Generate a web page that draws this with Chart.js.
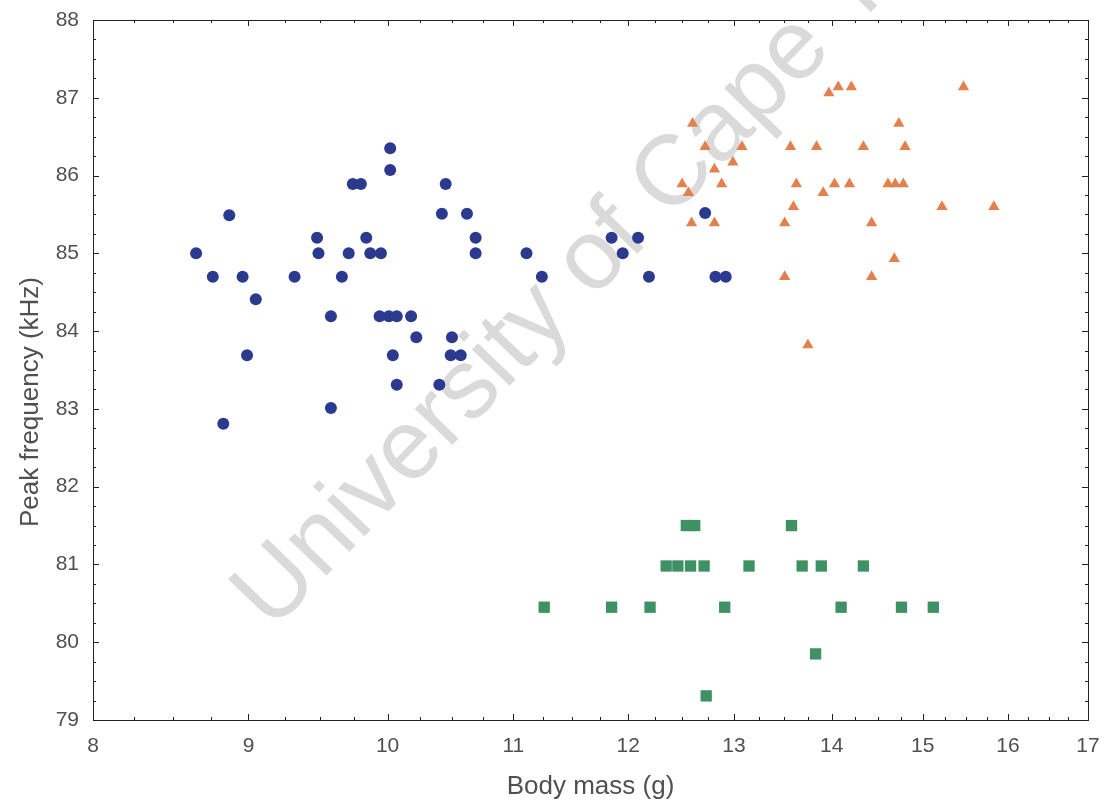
<!DOCTYPE html>
<html>
<head>
<meta charset="utf-8">
<script src="https://cdn.jsdelivr.net/npm/chart.js@4.4.1/dist/chart.umd.min.js"></script>
<style>
  html, body { margin: 0; padding: 0; background: #fff; }
  canvas { display: block; }
</style>
</head>
<body>
<canvas id="grafico" width="1105" height="809"></canvas>
<script>
// valores
const xTicks = [8, 9, 10, 11, 12, 13, 14, 15, 16, 17];
const yTicks = [79, 80, 81, 82, 83, 84, 85, 86, 87, 88];

const circulosX = [10.02, 10.02, 9.74, 9.80, 8.87, 9.48, 9.84, 8.65, 9.49, 9.71, 9.87, 9.95,
    8.76, 8.96, 9.32, 9.66, 9.05, 9.58, 9.94, 10.01, 10.07, 10.18, 10.22, 10.50, 10.04, 10.49,
    10.57, 10.07, 10.40, 9.58, 8.99, 8.83, 10.45, 10.42, 10.62, 10.69, 10.69, 11.11, 11.24,
    11.85, 12.09, 11.95, 12.19, 12.72, 12.82, 12.92];
const circulosY = [86.35, 86.07, 85.89, 85.89, 85.49, 85.20, 85.20, 85.00, 85.00, 85.00, 85.00, 85.00,
    84.70, 84.70, 84.70, 84.70, 84.41, 84.19, 84.19, 84.19, 84.19, 84.19, 83.92, 83.92, 83.69, 83.69,
    83.69, 83.31, 83.31, 83.01, 83.69, 82.81, 85.89, 85.51, 85.51, 85.20, 85.00, 85.00, 84.70,
    85.20, 85.20, 85.00, 84.70, 85.52, 84.70, 84.70];

const triangulosX = [13.97, 14.07, 14.21, 15.47, 12.60, 14.73, 12.72, 13.08, 13.57, 13.84, 14.34, 14.80,
    12.99, 12.81, 12.50, 12.56, 12.88, 13.63, 14.03, 14.19, 13.91, 14.61, 14.69, 14.78,
    13.60, 15.22, 15.83, 12.59, 12.81, 13.51, 14.43, 14.68, 13.51, 14.43, 13.75];
const triangulosY = [87.06, 87.14, 87.14, 87.14, 86.67, 86.67, 86.37, 86.37, 86.37, 86.37, 86.37, 86.37,
    86.17, 86.08, 85.89, 85.78, 85.89, 85.89, 85.89, 85.89, 85.78, 85.89, 85.89, 85.89,
    85.60, 85.60, 85.60, 85.39, 85.39, 85.39, 85.39, 84.93, 84.70, 84.70, 83.82];

const quadradosX = [12.54, 12.62, 13.58, 12.35, 12.46, 12.58, 12.71, 13.15, 13.69, 13.89, 14.34,
    11.26, 11.85, 12.20, 12.91, 14.10, 14.76, 15.12, 13.83, 12.73];
const quadradosY = [81.50, 81.50, 81.50, 80.98, 80.98, 80.98, 80.98, 80.98, 80.98, 80.98, 80.98,
    80.45, 80.45, 80.45, 80.45, 80.45, 80.45, 80.45, 79.85, 79.31];

function pontos(xs, ys){
    return xs.map((x, i) => ({x: x, y: ys[i]}));
}

const corTexto = '#505050';
const fonteTicks = { family: '"Liberation Sans", Arial, sans-serif', size: 21 };

// marca d'agua atras dos pontos
const marcaDagua = {
    id: 'marcaDagua',
    beforeDatasetsDraw(chart){
        const ctx = chart.ctx;
        ctx.save();
        ctx.translate(272, 632);
        ctx.rotate(-46 * Math.PI / 180);
        ctx.font = '99px "Liberation Sans", Arial, sans-serif';
        ctx.fillStyle = '#dadada';
        ctx.textBaseline = 'alphabetic';
        ctx.fillText('University of Cape Town', 0, 0);
        ctx.restore();
    }
};

// moldura com tracinhos para dentro + titulo do eixo y
const moldura = {
    id: 'moldura',
    afterDraw(chart){
        const ctx = chart.ctx;
        const a = chart.chartArea;
        const x = chart.scales.x;
        const y = chart.scales.y;
        ctx.save();
        ctx.strokeStyle = '#222';
        ctx.lineWidth = 1;
        ctx.strokeRect(Math.round(a.left) + 0.5, Math.round(a.top) + 0.5,
            Math.round(a.right - a.left), Math.round(a.bottom - a.top));
        ctx.beginPath();
        for(let v = 8; v <= 17.001; v += 0.25){
            const px = Math.round(x.getPixelForValue(v)) + 0.5;
            const len = Math.abs(v - Math.round(v)) < 1e-6 ? 6 : 3;
            ctx.moveTo(px, a.bottom); ctx.lineTo(px, a.bottom - len);
            ctx.moveTo(px, a.top); ctx.lineTo(px, a.top + len);
        }
        for(let v = 79; v <= 88.001; v += 0.25){
            const py = Math.round(y.getPixelForValue(v)) + 0.5;
            const len = Math.abs(v - Math.round(v)) < 1e-6 ? 6 : 3;
            ctx.moveTo(a.left, py); ctx.lineTo(a.left + len, py);
            ctx.moveTo(a.right, py); ctx.lineTo(a.right - len, py);
        }
        ctx.stroke();

        ctx.translate(31, 402);
        ctx.rotate(-Math.PI / 2);
        ctx.font = '26px "Liberation Sans", Arial, sans-serif';
        ctx.fillStyle = corTexto;
        ctx.textAlign = 'center';
        ctx.textBaseline = 'middle';
        ctx.fillText('Peak frequency (kHz)', 0, 0);
        ctx.restore();
    }
};

new Chart(document.getElementById('grafico'), {
    type: 'scatter',
    data: {
        datasets: [
            {
                label: 'circulos',
                data: pontos(circulosX, circulosY),
                pointStyle: 'circle',
                pointRadius: 6,
                backgroundColor: '#2b3a8e',
                borderColor: '#2b3a8e',
                borderWidth: 0
            },
            {
                label: 'triangulos',
                data: pontos(triangulosX, triangulosY),
                pointStyle: 'triangle',
                pointRadius: 6.5,
                backgroundColor: '#e3814e',
                borderColor: '#e3814e',
                borderWidth: 0
            },
            {
                label: 'quadrados',
                data: pontos(quadradosX, quadradosY),
                pointStyle: 'rect',
                pointRadius: 8,
                backgroundColor: '#3e9163',
                borderColor: '#3e9163',
                borderWidth: 0
            }
        ]
    },
    options: {
        responsive: false,
        animation: false,
        layout: { padding: { top: 20, right: 17, left: 0, bottom: 0 } },
        plugins: {
            legend: { display: false },
            tooltip: { enabled: false }
        },
        scales: {
            x: {
                type: 'logarithmic',
                min: 8,
                max: 17,
                afterBuildTicks: s => { s.ticks = xTicks.map(v => ({value: v})); },
                afterFit: s => { s.height = 89; s.paddingLeft = 0; s.paddingRight = 0; },
                grid: { display: false, drawTicks: false },
                border: { display: false },
                ticks: {
                    callback: v => String(v),
                    autoSkip: false,
                    maxRotation: 0,
                    padding: 14,
                    color: corTexto,
                    font: fonteTicks
                },
                title: {
                    display: true,
                    text: 'Body mass (g)',
                    color: corTexto,
                    padding: { top: 0, bottom: 7 },
                    font: { family: '"Liberation Sans", Arial, sans-serif', size: 26 }
                }
            },
            y: {
                min: 79,
                max: 88,
                afterBuildTicks: s => { s.ticks = yTicks.map(v => ({value: v})); },
                afterFit: s => { s.width = 93; s.paddingTop = 0; s.paddingBottom = 0; },
                grid: { display: false, drawTicks: false },
                border: { display: false },
                ticks: {
                    padding: 14,
                    color: corTexto,
                    font: fonteTicks
                },
                title: { display: false }
            }
        }
    },
    plugins: [marcaDagua, moldura]
});
</script>
</body>
</html>
